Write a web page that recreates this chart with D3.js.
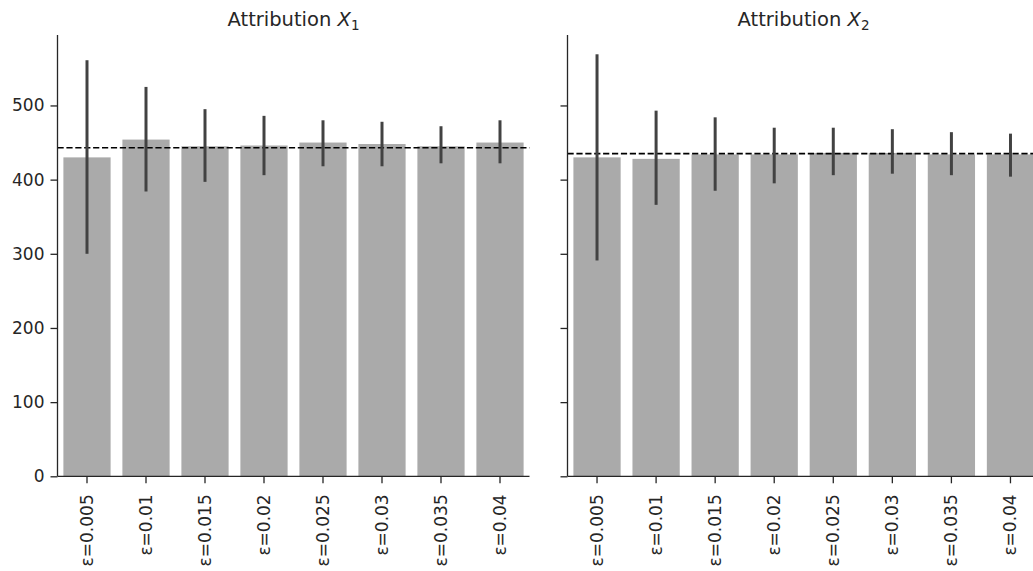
<!DOCTYPE html>
<html>
<head>
<meta charset="utf-8">
<script src="https://cdn.jsdelivr.net/npm/d3@7"></script>
<style>
  body { margin: 0; background: #fff; }
  svg { display: block; }
  text { font-family: "DejaVu Sans", sans-serif; fill: #262626; }
</style>
</head>
<body>
<svg id="chart" width="1033" height="571"></svg>
<script>
const categories = ["ε=0.005", "ε=0.01", "ε=0.015", "ε=0.02", "ε=0.025", "ε=0.03", "ε=0.035", "ε=0.04"];
const yTicks = [0, 100, 200, 300, 400, 500];

const x1Mean = [430, 454, 445, 446, 450, 448, 445, 450];
const x1Low  = [300, 384, 397, 406, 418, 418, 422, 422];
const x1High = [561, 525, 495, 486, 480, 478, 472, 480];
const x1Ref = 443;

const x2Mean = [430, 428, 434, 434, 436, 436, 434, 434];
const x2Low  = [291, 366, 385, 395, 406, 408, 406, 404];
const x2High = [569, 493, 484, 470, 470, 468, 464, 462];
const x2Ref = 435;

const svg = d3.select("#chart");
const y = d3.scaleLinear().domain([0, 595]).range([476.3, 35]);

const panels = [
  { title: "1", mean: x1Mean, low: x1Low, high: x1High, ref: x1Ref, range: [57.5, 529.5], labels: true },
  { title: "2", mean: x2Mean, low: x2Low, high: x2High, ref: x2Ref, range: [567.5, 1040], labels: false }
];

const axisColor = "#262626";

panels.forEach(p => {
  const x = d3.scaleBand().domain(categories).range(p.range).paddingInner(0.2).paddingOuter(0.1);
  const g = svg.append("g");
  const data = categories.map((c, i) => ({ c, m: p.mean[i], lo: p.low[i], hi: p.high[i] }));

  // bars
  g.selectAll("rect.bar").data(data).join("rect")
    .attr("class", "bar")
    .attr("x", d => x(d.c))
    .attr("width", x.bandwidth())
    .attr("y", d => y(d.m))
    .attr("height", d => y(0) - y(d.m))
    .attr("fill", "#aaaaaa");

  // reference dashed line
  g.append("line")
    .attr("x1", p.range[0]).attr("x2", p.range[1])
    .attr("y1", y(p.ref)).attr("y2", y(p.ref))
    .attr("stroke", "#000").attr("stroke-width", 1.6)
    .attr("stroke-dasharray", "6.2,2.7");

  // error bars
  g.selectAll("line.err").data(data).join("line")
    .attr("class", "err")
    .attr("x1", d => x(d.c) + x.bandwidth() / 2)
    .attr("x2", d => x(d.c) + x.bandwidth() / 2)
    .attr("y1", d => y(d.lo)).attr("y2", d => y(d.hi))
    .attr("stroke", "#424242").attr("stroke-width", 3);

  // y axis
  const yAxis = d3.axisLeft(y).tickValues(yTicks).tickSize(7).tickPadding(6);
  if (!p.labels) yAxis.tickFormat("");
  const ya = g.append("g").attr("transform", `translate(${p.range[0]},0)`).call(yAxis);
  ya.select(".domain").attr("d", `M0,${y.range()[1]}V${y.range()[0]}`);
  ya.selectAll("line, path").attr("stroke", axisColor).attr("stroke-width", 1.3);
  ya.selectAll("text").attr("font-size", 17).attr("fill", axisColor).attr("font-family", "DejaVu Sans");

  // x axis
  const xAxis = d3.axisBottom(x).tickSize(7).tickSizeOuter(0);
  const xa = g.append("g").attr("transform", `translate(0,${y(0)})`).call(xAxis);
  xa.select(".domain").attr("d", `M${p.range[0]},0H${p.range[1]}`);
  xa.selectAll("line, path").attr("stroke", axisColor).attr("stroke-width", 1.3);
  xa.selectAll("text")
    .attr("font-size", 17).attr("fill", axisColor).attr("font-family", "DejaVu Sans")
    .attr("text-anchor", "end")
    .attr("dy", "0.35em")
    .attr("y", 0).attr("x", 0)
    .attr("transform", "translate(0,18) rotate(-90)");

  // title
  const cx = (p.range[0] + 529.5 - 57.5 + (p.range[0])) / 2;
  const t = svg.append("text")
    .attr("x", p.range[0] + (529.5 - 57.5) / 2)
    .attr("y", 26)
    .attr("text-anchor", "middle")
    .attr("font-size", 19.5);
  t.append("tspan").text("Attribution ");
  t.append("tspan").attr("font-style", "italic").text("X");
  t.append("tspan").attr("font-size", 13.5).attr("dy", 4).text(p.title);
});
</script>
</body>
</html>
